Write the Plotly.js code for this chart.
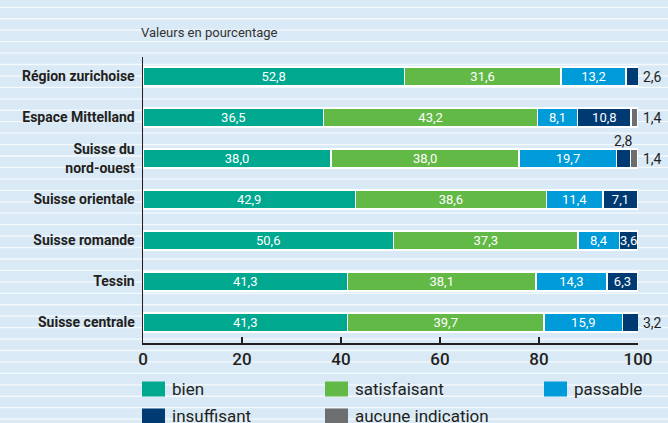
<!DOCTYPE html>
<html>
<head>
<meta charset="utf-8">
<script src="https://cdn.plot.ly/plotly-3.0.1.min.js"></script>
<style>html,body{margin:0;padding:0;background:#d9e9f5;}#chart{width:668px;height:423px;}</style>
</head>
<body>
<div id="chart"></div>
<script>
// ---- data ----
const regions = ["Région zurichoise", "Espace Mittelland", "Suisse du<br>nord-ouest", "Suisse orientale", "Suisse romande", "Tessin", "Suisse centrale"];
const seriesNames = ["bien", "satisfaisant", "passable", "insuffisant", "aucune indication"];
const bien          = [52.8, 36.5, 38.0, 42.9, 50.6, 41.3, 41.3];
const satisfaisant  = [31.6, 43.2, 38.0, 38.6, 37.3, 38.1, 39.7];
const passable      = [13.2, 8.1, 19.7, 11.4, 8.4, 14.3, 15.9];
const insuffisant   = [2.6, 10.8, 2.8, 7.1, 3.6, 6.3, 3.2];
const aucune        = [0, 1.4, 1.4, 0, 0, 0, 0];
const tickValues = [0, 20, 40, 60, 80, 100];

// ---- style ----
const seriesColors = ["#00a88f", "#63b946", "#009bd9", "#003a72", "#6d6e70"];
const BG = "#d9e9f5";
const DARK = "#231f20";
const FONT = "Roboto, 'Liberation Sans', sans-serif";
const W = 668, H = 423;
const M = {l: 143, r: 30, t: 57, b: 80};
const PW = W - M.l - M.r, PH = H - M.t - M.b;
const px2x = p => (p - M.l) / PW;
const px2y = p => (H - M.b - p) / PH;
const fmt = v => v.toFixed(1).replace('.', ',');
const SMALL = 3.5;

const allSeries = [bien, satisfaisant, passable, insuffisant, aucune];

const traces = allSeries.map((vals, si) => ({
  type: 'bar',
  orientation: 'h',
  name: seriesNames[si],
  y: regions,
  x: vals,
  width: 0.46,
  marker: {color: seriesColors[si], line: {color: '#ffffff', width: 1.5}},
  text: vals.map(v => v >= SMALL ? fmt(v) : ''),
  textposition: 'inside',
  insidetextanchor: 'middle',
  constraintext: 'none',
  textangle: 0,
  textfont: {family: FONT, size: 13, color: '#ffffff'},
  hoverinfo: 'x+name',
  showlegend: false
}));

// outside labels for small segments
const annotations = [];
regions.forEach((r, ri) => {
  let cum = 0;
  const vals = allSeries.map(s => s[ri]);
  let lastNZ = -1;
  vals.forEach((v, i) => { if (v > 0) lastNZ = i; });
  vals.forEach((v, si) => {
    if (v > 0 && v < SMALL) {
      if (si === lastNZ) {
        annotations.push({x: 100, y: r, xref: 'x', yref: 'y', text: fmt(v), showarrow: false,
          xanchor: 'left', xshift: 3, font: {family: FONT, size: 14, color: DARK}});
      } else {
        annotations.push({x: cum + v / 2, y: r, xref: 'x', yref: 'y', text: fmt(v), showarrow: false,
          xanchor: 'center', yshift: 18, font: {family: FONT, size: 14, color: DARK}});
      }
    }
    cum += v;
  });
});

// background stripes
const shapes = [];
for (let k = 0; k <= 36; k++) {
  const yp = 7.3 + 11.44 * k;
  shapes.push({type: 'line', layer: 'below', xref: 'paper', yref: 'paper',
    x0: px2x(0), x1: px2x(W), y0: px2y(yp), y1: px2y(yp),
    line: {color: '#f4f9fd', width: 1.3}});
}

// custom legend
const legendPos = [[142, 389], [325, 389], [544, 389], [142, 416], [325, 416]];
seriesNames.forEach((n, i) => {
  const [lx, ly] = legendPos[i];
  shapes.push({type: 'rect', xref: 'paper', yref: 'paper', layer: 'above',
    x0: px2x(lx), x1: px2x(lx + 23), y0: px2y(ly - 7.5), y1: px2y(ly + 7.5),
    fillcolor: seriesColors[i], line: {width: 0}});
  annotations.push({xref: 'paper', yref: 'paper', x: px2x(lx + 28), y: px2y(ly),
    xanchor: 'left', yanchor: 'middle', text: n, showarrow: false,
    font: {family: FONT, size: 17, color: DARK}});
});

const layout = {
  width: W, height: H,
  margin: M,
  paper_bgcolor: BG,
  plot_bgcolor: BG,
  barmode: 'stack',
  separators: ',.',
  title: {text: 'Valeurs en pourcentage', x: 141 / W, xanchor: 'left', xref: 'container',
    y: 1 - 32 / H, yanchor: 'middle', yref: 'container',
    font: {family: FONT, size: 13, color: '#333333'}},
  xaxis: {
    range: [0, 100], tickvals: tickValues, ticktext: tickValues.map(String),
    showgrid: false, zeroline: false, showline: true, linecolor: DARK, linewidth: 1.5,
    ticks: 'inside', ticklen: 6, tickwidth: 1.3, tickcolor: DARK,
    tickfont: {family: FONT, size: 17, color: DARK, weight: 500}, fixedrange: true
  },
  yaxis: {
    type: 'category', categoryorder: 'array', categoryarray: regions,
    range: [6.5, -0.476],
    showgrid: false, zeroline: false, showline: true, linecolor: DARK, linewidth: 1.5,
    ticks: '', ticklabelstandoff: 4,
    tickfont: {family: FONT, size: 14, color: DARK, weight: 'bold'}, fixedrange: true
  },
  shapes: shapes,
  annotations: annotations,
  showlegend: false
};

Plotly.newPlot('chart', traces, layout, {displayModeBar: false, staticPlot: true});
</script>
</body>
</html>
